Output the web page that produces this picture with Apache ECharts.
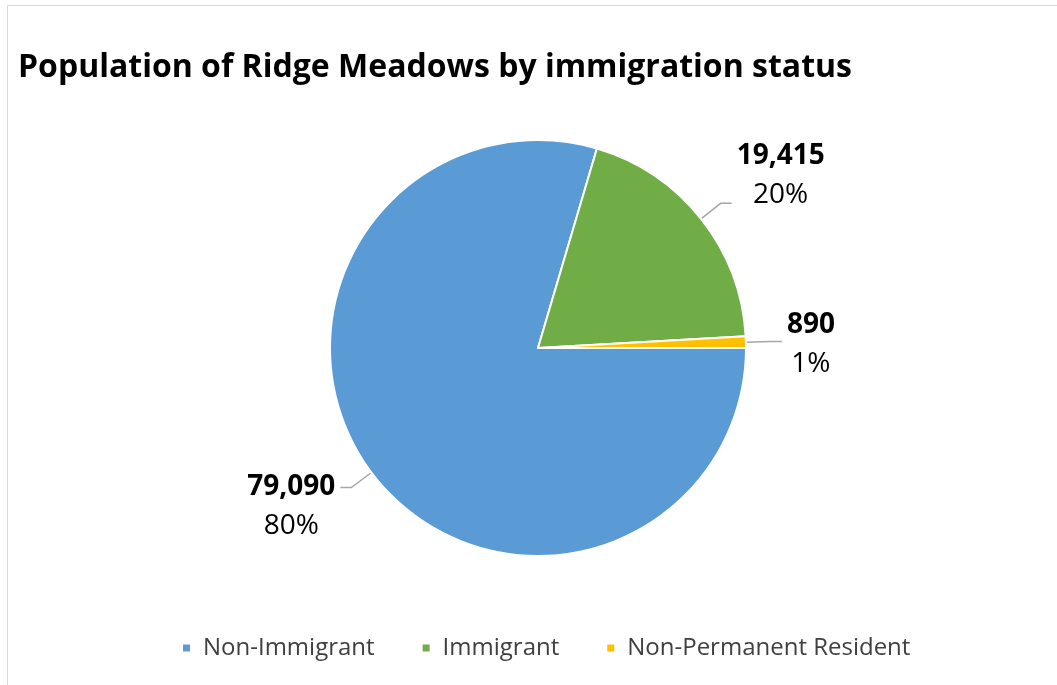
<!DOCTYPE html>
<html>
<head>
<meta charset="utf-8">
<script src="https://cdn.jsdelivr.net/npm/echarts@6/dist/echarts.min.js"></script>
<style>
  html, body { margin: 0; padding: 0; background: #fff; }
  #frame {
    position: absolute; left: 7px; top: 5px; width: 1100px; height: 720px;
    border-left: 1.5px solid #d9d9d9; border-top: 1.5px solid #d9d9d9;
  }
  #chart { position: absolute; left: 0; top: 0; width: 1057px; height: 685px; }
</style>
</head>
<body>
<div id="frame"></div>
<div id="chart"></div>
<script>
// Population of Ridge Meadows by immigration status
const categories = ['Non-Immigrant', 'Immigrant', 'Non-Permanent Resident'];
const population = [79090, 19415, 890];
const colors = ['#5B9BD5', '#70AD47', '#FFC000'];
// Extra room around each label block so the two-line text sits beside its leader line
const labelPadding = [[38, 0, 0, 0], [0, 0, 56, 0], [6, 0, 0, 0]];

const FONT = '"Open Sans", "Liberation Sans", sans-serif';

const chart = echarts.init(document.getElementById('chart'), null, { renderer: 'canvas' });

chart.setOption({
  animation: false,
  title: {
    text: 'Population of Ridge Meadows by immigration status',
    left: 13,
    top: 47,
    textStyle: { fontFamily: FONT, fontWeight: 'bold', fontSize: 32, color: '#000' }
  },
  legend: {
    bottom: 20,
    left: 176,
    itemWidth: 9,
    itemHeight: 9,
    itemGap: 46,
    icon: 'rect',
    textStyle: { fontFamily: FONT, fontSize: 24, color: '#404040', padding: [0, 0, 0, 7] },
    data: categories
  },
  series: [{
    type: 'pie',
    center: [538, 348],
    radius: [0, 208],
    startAngle: 0,
    clockwise: true,
    data: categories.map((name, i) => ({
      name,
      value: population[i],
      itemStyle: { color: colors[i] },
      label: { padding: labelPadding[i] }
    })),
    itemStyle: { borderColor: '#fff', borderWidth: 2 },
    label: {
      show: true,
      position: 'outside',
      formatter: p => '{v|' + p.value.toLocaleString('en-US') + '}\n{p|' + Math.round(p.percent) + '%}',
      rich: {
        v: { fontFamily: FONT, fontWeight: 'bold', fontSize: 28, color: '#000', lineHeight: 39, align: 'center' },
        p: { fontFamily: FONT, fontSize: 28, color: '#000', lineHeight: 39, align: 'center' }
      }
    },
    labelLine: {
      show: true,
      length: 25,
      length2: 11,
      lineStyle: { color: '#a6a6a6', width: 1.5 }
    }
  }]
});
</script>
</body>
</html>
